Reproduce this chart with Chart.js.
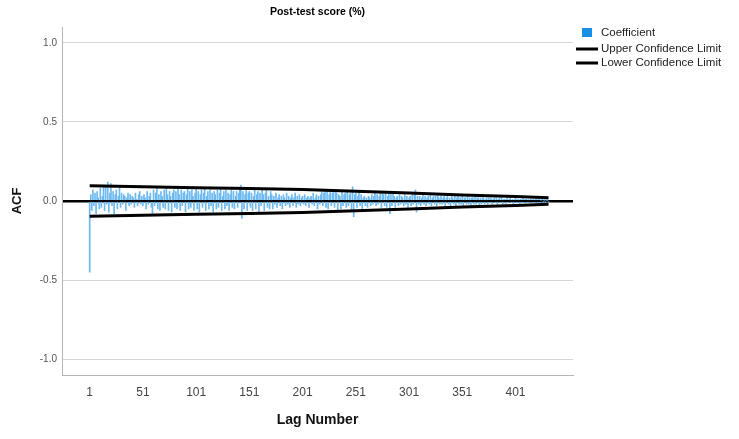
<!DOCTYPE html>
<html>
<head>
<meta charset="utf-8">
<script src="https://cdn.jsdelivr.net/npm/chart.js@4.4.0/dist/chart.umd.min.js"></script>
<style>
  body { margin: 0; background: #fff; }
  #wrap { width: 739px; height: 439px; }
</style>
</head>
<body>
<div id="wrap"><canvas id="grafico" width="739" height="439"></canvas></div>
<script>
// coeficientes ACF por lag (1..432)
const acf = [
  -0.45, 0.04, -0.06, 0.07, -0.03, 0.05, -0.08, 0.06, 0.02, -0.05,
  0.08, -0.04, 0.03, 0.10, -0.06, 0.09, -0.02, 0.12, -0.07, 0.05,
  0.11, -0.03, 0.06, -0.08, 0.04, 0.07, -0.05, 0.03, 0.08, -0.04,
  0.05, -0.02, 0.04, 0.03, -0.06, 0.02, 0.05, -0.03, 0.04, -0.02,
  0.03, 0.02, -0.04, 0.05, 0.01, -0.03, 0.04, 0.06, -0.02, 0.03,
  -0.03, 0.04, 0.02, -0.05, 0.06, -0.02, 0.03, 0.05, -0.04, -0.08,
  0.07, -0.03, 0.05, 0.08, -0.05, 0.04, -0.06, 0.06, 0.03, -0.04,
  0.07, -0.05, 0.08, 0.04, -0.06, 0.06, 0.03, -0.07, 0.05, 0.07,
  -0.04, 0.06, -0.05, 0.08, 0.04, -0.06, 0.07, -0.03, 0.05, 0.06,
  -0.07, 0.04, 0.08, -0.05, 0.06, -0.04, 0.07, 0.03, -0.06, 0.05,
  0.08, -0.05, 0.06, -0.07, 0.04, 0.07, -0.04, 0.05, 0.08, -0.06,
  0.03, 0.06, -0.05, 0.07, -0.03, 0.05, -0.07, 0.06, 0.04, -0.05,
  0.07, -0.04, 0.05, 0.08, -0.06, 0.03, 0.06, -0.05, 0.07, -0.03,
  0.05, -0.06, 0.04, 0.07, -0.04, 0.06, -0.05, 0.03, 0.06, -0.04,
  0.05, 0.07, 0.10, -0.11, 0.06, -0.05, 0.04, 0.07, -0.06, 0.05,
  0.06, -0.04, 0.05, -0.06, 0.03, 0.07, -0.05, 0.04, 0.06, -0.07,
  0.05, -0.03, 0.07, 0.04, -0.06, 0.05, 0.08, -0.04, 0.03, -0.05,
  0.06, 0.04, -0.05, 0.03, -0.02, 0.05, -0.04, 0.02, 0.04, -0.03,
  0.03, -0.05, 0.04, 0.02, -0.03, 0.05, -0.02, 0.03, -0.04, 0.02,
  0.04, -0.03, 0.02, 0.05, -0.04, 0.03, -0.02, 0.04, -0.03, 0.02,
  0.03, -0.02, 0.04, -0.03, 0.02, 0.03, -0.04, 0.02, 0.03, -0.02,
  0.05, -0.03, 0.02, 0.04, -0.05, 0.03, -0.02, 0.04, 0.06, -0.03,
  0.05, 0.07, -0.04, 0.06, -0.05, 0.04, 0.06, -0.03, 0.05, 0.07,
  -0.04, 0.06, 0.05, -0.06, 0.04, 0.03, -0.05, 0.06, -0.03, 0.04,
  0.05, -0.04, 0.06, -0.03, 0.04, 0.05, -0.06, 0.09, -0.10, 0.04,
  0.05, -0.04, 0.03, 0.06, -0.03, 0.04, -0.05, 0.02, 0.03, -0.03,
  0.02, -0.04, 0.03, 0.02, -0.03, 0.04, -0.02, 0.03, 0.05, -0.03,
  0.04, -0.02, 0.03, 0.05, -0.04, 0.06, 0.04, -0.03, 0.05, -0.04,
  0.03, 0.06, -0.08, 0.04, -0.03, 0.05, 0.03, -0.04, 0.02, 0.03,
  -0.03, 0.04, -0.02, 0.03, 0.02, -0.03, 0.04, -0.02, 0.03, -0.04,
  0.02, 0.03, -0.03, 0.04, -0.02, 0.05, 0.07, -0.07, 0.03, -0.02,
  0.03, -0.03, 0.02, 0.04, -0.02, 0.03, -0.03, 0.02, 0.03, -0.02,
  0.04, -0.03, 0.02, 0.03, -0.02, 0.03, -0.03, 0.04, 0.02, -0.02,
  0.03, -0.02, 0.02, 0.03, -0.03, 0.02, 0.03, -0.02, 0.02, -0.03,
  0.03, 0.02, -0.02, 0.03, -0.03, 0.02, 0.03, -0.02, 0.02, -0.02,
  0.03, -0.03, 0.02, 0.02, -0.02, 0.03, -0.02, 0.02, -0.03, 0.02,
  0.02, -0.02, 0.03, -0.02, 0.02, 0.02, -0.03, 0.02, -0.02, 0.02,
  0.02, -0.02, 0.01, 0.02, -0.02, 0.02, -0.01, 0.02, -0.02, 0.01,
  0.02, -0.01, 0.02, -0.02, 0.01, 0.02, -0.01, 0.02, -0.02, 0.01,
  0.01, -0.02, 0.02, -0.01, 0.01, 0.02, -0.01, 0.01, -0.02, 0.01,
  0.02, -0.01, 0.01, 0.01, -0.02, 0.01, -0.01, 0.02, -0.01, 0.01,
  0.01, -0.01, 0.01, -0.01, 0.01, 0.01, -0.01, 0.01, -0.01, 0.01,
  0.01, -0.01, 0.01, -0.01, 0.005, 0.01, -0.005, 0.005, -0.005, 0.005,
  0.005, -0.005
];
const lags = acf.map((v, i) => i + 1);

// limites de confianca lidos em alguns lags
const limiteLags = [1, 51, 101, 151, 201, 251, 301, 351, 401, 432];
const limiteSup = [0.097, 0.090, 0.084, 0.079, 0.072, 0.062, 0.051, 0.038, 0.028, 0.020];
const limiteInf = [-0.097, -0.090, -0.084, -0.079, -0.072, -0.062, -0.051, -0.038, -0.028, -0.020];

const ticksX = [1, 51, 101, 151, 201, 251, 301, 351, 401];
const ticksY = [-1.0, -0.5, 0.0, 0.5, 1.0];

const corBarra = '#6cb9f0';
const fonte = "'Liberation Sans', Arial, sans-serif";

function pontos(xs, ys){
    return xs.map((x, i) => ({ x: x, y: ys[i] }));
};

// titulo e legenda desenhados a mao, como no SPSS
const extras = {
  id: 'extras',
  afterDraw(chart) {
    const ctx = chart.ctx;
    const area = chart.chartArea;
    ctx.save();
    ctx.fillStyle = '#000';
    ctx.font = 'bold 10.5px ' + fonte;
    ctx.textAlign = 'center';
    ctx.textBaseline = 'middle';
    ctx.fillText('Post-test score (%)', (area.left + area.right) / 2, 12);

    ctx.textAlign = 'left';
    ctx.font = '11.5px ' + fonte;
    ctx.fillStyle = '#1a8fe6';
    ctx.fillRect(582, 28, 10, 9);
    ctx.fillStyle = '#222';
    ctx.fillText('Coefficient', 601, 33);

    ctx.strokeStyle = '#000';
    ctx.lineWidth = 3;
    [[49, 'Upper Confidence Limit'], [63, 'Lower Confidence Limit']].forEach(([y, txt]) => {
      ctx.beginPath();
      ctx.moveTo(576, y);
      ctx.lineTo(598, y);
      ctx.stroke();
      ctx.fillText(txt, 601, y);
    });
    ctx.restore();
  }
};

const grafico = new Chart(document.getElementById('grafico'), {
  type: 'bar',
  data: {
    datasets: [
      {
        type: 'line',
        label: 'Upper Confidence Limit',
        data: pontos(limiteLags, limiteSup),
        borderColor: '#000',
        borderWidth: 3,
        pointRadius: 0,
        tension: 0,
        order: 1
      },
      {
        type: 'line',
        label: 'Lower Confidence Limit',
        data: pontos(limiteLags, limiteInf),
        borderColor: '#000',
        borderWidth: 3,
        pointRadius: 0,
        tension: 0,
        order: 1
      },
      {
        type: 'bar',
        label: 'Coefficient',
        data: pontos(lags, acf),
        backgroundColor: corBarra,
        borderWidth: 0,
        barThickness: 1,
        order: 2
      }
    ]
  },
  options: {
    responsive: false,
    animation: false,
    layout: { padding: { left: 0, right: 166, top: 27, bottom: 0 } },
    plugins: {
      legend: { display: false },
      tooltip: { enabled: false }
    },
    scales: {
      x: {
        type: 'linear',
        min: -25,
        max: 455,
        offset: false,
        afterFit: s => { s.height = 64; },
        afterBuildTicks: s => { s.ticks = ticksX.map(v => ({ value: v })); },
        grid: { display: false, drawTicks: false },
        border: { display: true, color: '#b5b5b5', width: 1 },
        ticks: {
          autoSkip: false,
          maxRotation: 0,
          padding: 10,
          color: '#444',
          font: { family: fonte, size: 12 },
          callback: v => String(v)
        },
        title: {
          display: true,
          text: 'Lag Number',
          color: '#111',
          font: { family: fonte, size: 14, weight: 'bold' },
          padding: { top: 0, bottom: 10 }
        }
      },
      y: {
        min: -1.1,
        max: 1.1,
        afterFit: s => { s.width = 62; },
        afterBuildTicks: s => { s.ticks = ticksY.map(v => ({ value: v })); },
        grid: {
          drawTicks: false,
          color: c => c.tick && c.tick.value === 0 ? '#000' : '#d6d6d6',
          lineWidth: c => c.tick && c.tick.value === 0 ? 2.5 : 1
        },
        border: { display: true, color: '#b5b5b5', width: 1 },
        ticks: {
          padding: 5,
          color: '#555',
          font: { family: fonte, size: 10 },
          callback: v => v.toFixed(1)
        },
        title: {
          display: true,
          text: 'ACF',
          color: '#111',
          font: { family: fonte, size: 13, weight: 'bold' },
          padding: { top: 10, bottom: 0 }
        }
      }
    }
  },
  plugins: [extras]
});
</script>
</body>
</html>
